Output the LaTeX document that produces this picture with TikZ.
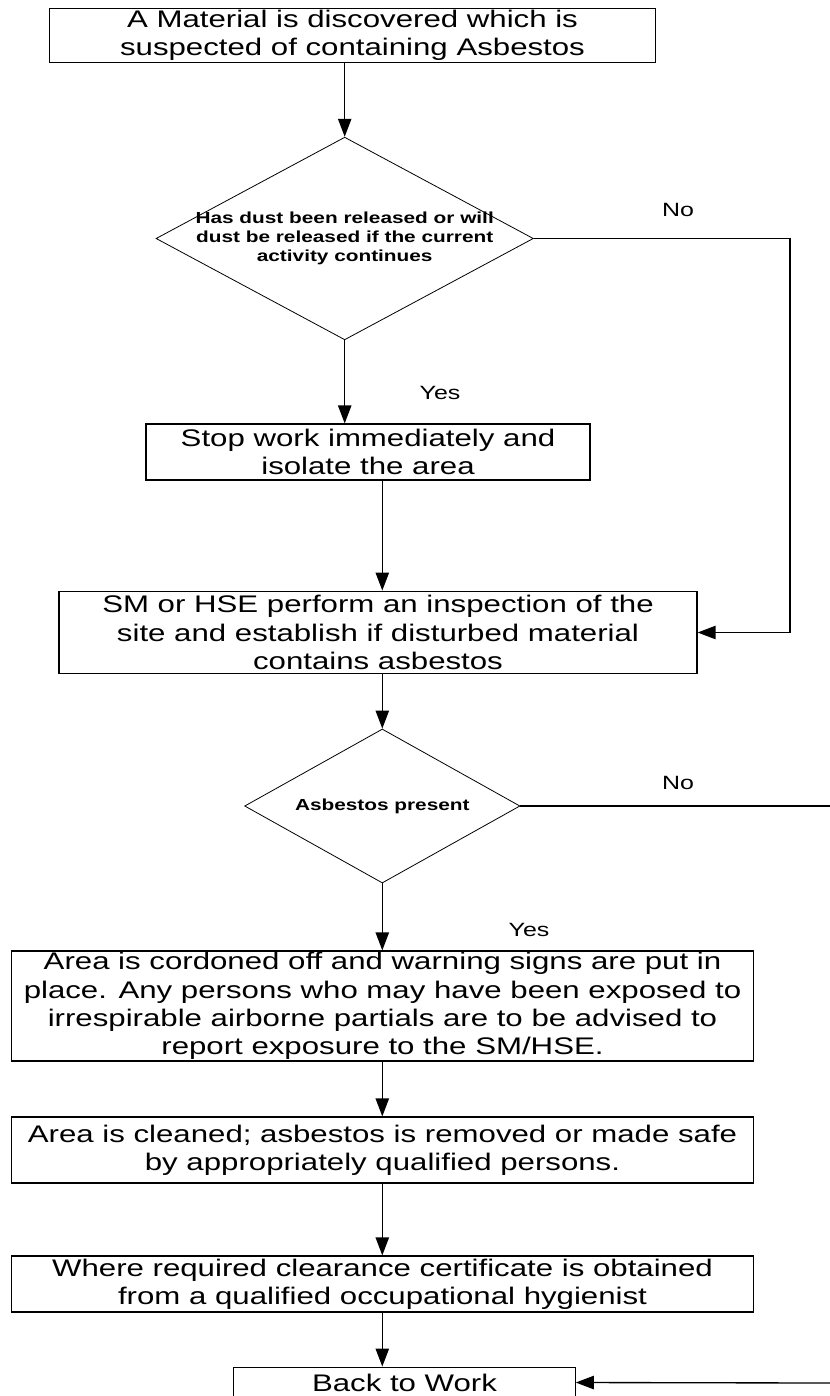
\documentclass[tikz,border=0pt]{standalone}
\usepackage{fontspec}
\setmainfont{Liberation Sans}[FakeStretch=1.3]
\usetikzlibrary{arrows.meta,shapes.geometric}

\begin{document}
\begin{tikzpicture}[x=0.75pt,y=-0.75pt,
    stepbox/.style={draw, line width=0.9pt, align=center, inner sep=0pt,
      font=\fontsize{18}{21.2}\selectfont},
    decision/.style={draw, diamond, line width=0.6pt, inner sep=0pt},
    question/.style={align=center, inner sep=0pt,
      font=\fontsize{12}{14.25}\selectfont\bfseries},
    answer/.style={font=\fontsize{14.4}{16}\selectfont},
    arr/.style={line width=1pt, -{Triangle[length=13.5pt,width=10pt]}},
    plain/.style={line width=1pt}]
      \useasboundingbox (0,0) rectangle (830,1396);
      \clip (0,0) rectangle (830,1396);
      % boxes and decisions
      \node[stepbox, minimum width=455pt, minimum height=41pt] (box1) at (352.5, 35.5)
        {A Material is discovered which is\\suspected of containing Asbestos};
      \node[decision, minimum width=283pt, minimum height=152pt] (dec1) at (344.7, 238.5) {};
      \node[question] (dec1txt) at (dec1) {Has dust been released or will\\dust be released if the current\\activity continues};
      \node[stepbox, minimum width=333pt, minimum height=42pt] (box2) at (368, 452)
        {Stop work immediately and\\isolate the area};
      \node[stepbox, minimum width=478.5pt, minimum height=62pt] (box3) at (378, 632.5)
        {SM or HSE perform an inspection of the\\site and establish if disturbed material\\contains asbestos};
      \node[decision, minimum width=206.5pt, minimum height=115.5pt] (dec2) at (382.3, 806) {};
      \node[question] (dec2txt) at (dec2) {Asbestos present};
      \node[stepbox, minimum width=556pt, minimum height=82.5pt] (box4) at (382.5, 1006)
        {Area is cordoned off and warning signs are put in\\place. Any persons who may have been exposed to\\irrespirable airborne partials are to be advised to\\report exposure to the SM/HSE.};
      \node[stepbox, minimum width=556pt, minimum height=49.5pt] (box5) at (382.5, 1150)
        {Area is cleaned; asbestos is removed or made safe\\by appropriately qualified persons.};
      \node[stepbox, minimum width=556pt, minimum height=42pt] (box6) at (382.5, 1284)
        {Where required clearance certificate is obtained\\from a qualified occupational hygienist};
      \node[stepbox, minimum width=256pt, minimum height=23pt] (box7) at (404.5, 1382.5)
        {Back to Work};
      % answers
      \node[answer] (no1) at (678, 210) {No};
      \node[answer] (yes1) at (440, 393) {Yes};
      \node[answer] (no2) at (678, 783) {No};
      \node[answer] (yes2) at (529, 930) {Yes};
      % free ends of the no branches
      \coordinate (turn1) at (790, 238.5);
      \coordinate (edge1) at (830, 806);
      \coordinate (edge2) at (830, 1383);
      % connectors
      \draw[arr] (dec1.north |- box1.south) to (dec1.north);
      \draw[arr] (dec1.south) to (dec1.south |- box2.north);
      \draw[arr] (dec2.north |- box2.south) to (dec2.north |- box3.north);
      \draw[arr] (dec2.north |- box3.south) to (dec2.north);
      \draw[arr] (dec2.south) to (dec2.south |- box4.north);
      \draw[arr] (dec2.south |- box4.south) to (dec2.south |- box5.north);
      \draw[arr] (dec2.south |- box5.south) to (dec2.south |- box6.north);
      \draw[arr] (dec2.south |- box6.south) to (dec2.south |- box7.north);
      \draw[arr] (dec1.east) -- (turn1) |- (box3.east);
      \draw[plain] (dec2.east) -- (edge1);
      \draw[arr] (edge2) -- (box7.east);
    \end{tikzpicture}
\end{document}
